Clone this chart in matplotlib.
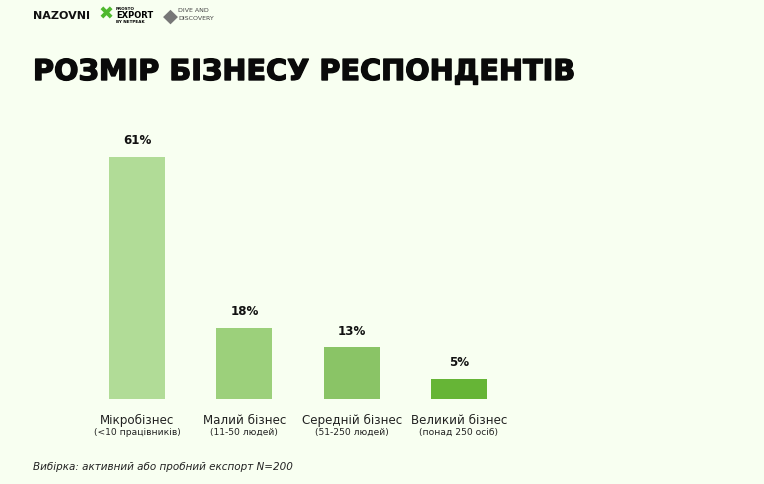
import matplotlib.pyplot as plt
import matplotlib.patheffects as pe

# data
categories = ["Мікробізнес", "Малий бізнес", "Середній бізнес", "Великий бізнес"]
subtitles = ["(<10 працівників)", "(11-50 людей)", "(51-250 людей)", "(понад 250 осіб)"]
values = [61, 18, 13, 5]
bar_colors = ["#b1dc97", "#9cd07b", "#8ac466", "#66b536"]

BG = "#f8fff1"
W, H = 764, 485

plt.rcParams['font.family'] = ['DejaVu Sans']

fig = plt.figure(figsize=(W / 100, H / 100), dpi=100, facecolor=BG)

# axes placed in pixel terms: bars from y=400 up to y=158 for the biggest value
ax = fig.add_axes([83.5 / W, (H - 400) / H, 429 / W, 242 / H])
ax.set_facecolor(BG)
ax.set_xlim(-0.5, 3.5)
ax.set_ylim(0, max(values))
for s in ax.spines.values():
    s.set_visible(False)
ax.set_xticks([])
ax.set_yticks([])

xs = range(len(values))
ax.bar(xs, values, width=0.522, color=bar_colors)

for x, v in zip(xs, values):
    ax.annotate(f"{v}%", (x, v), xytext=(0, 12.5), textcoords="offset points",
                ha="center", va="center", fontsize=8.6, fontweight="bold",
                color="#111111", annotation_clip=False)

for x, c, sub in zip(xs, categories, subtitles):
    ax.annotate(c, (x, 0), xytext=(0, -14.5), textcoords="offset points",
                ha="center", va="center", fontsize=8.6, color="#222222",
                annotation_clip=False)
    ax.annotate(sub, (x, 0), xytext=(0, -23.5), textcoords="offset points",
                ha="center", va="center", fontsize=6.6, color="#222222",
                annotation_clip=False)

# title, stroked a little to get closer to the heavy display face
fig.text(33 / W, 1 - 73 / H, "РОЗМІР БІЗНЕСУ РЕСПОНДЕНТІВ", ha="left", va="center",
         fontsize=20.7, fontweight="bold", color="#0a0a0a",
         path_effects=[pe.withStroke(linewidth=1.0, foreground="#0a0a0a")])

# footnote
fig.text(33 / W, 1 - 467 / H, "Вибірка: активний або пробний експорт N=200",
         ha="left", va="center", fontsize=7.5, style="italic", color="#222222")

# logos (approximation)
fig.text(33 / W, 1 - 16 / H, "NAZOVNI", ha="left", va="center",
         fontsize=8, fontweight="bold", color="#111111")
fig.text(106 / W, 1 - 15 / H, "✖", ha="center", va="center",
         fontsize=13, color="#4fb82e")
fig.text(116 / W, 1 - 9 / H, "PROSTO", ha="left", va="center", fontsize=3, fontweight="bold")
fig.text(116 / W, 1 - 15.5 / H, "EXPORT", ha="left", va="center", fontsize=6, fontweight="bold")
fig.text(116 / W, 1 - 22 / H, "BY NETPEAK", ha="left", va="center", fontsize=3, fontweight="bold")
fig.text(170 / W, 1 - 16 / H, "◆", ha="center", va="center",
         fontsize=14, color="#777777")
fig.text(178 / W, 1 - 11 / H, "DIVE AND", ha="left", va="center", fontsize=4.5, color="#444444",
         family=["DejaVu Sans Condensed", "DejaVu Sans"])
fig.text(178 / W, 1 - 18 / H, "DISCOVERY", ha="left", va="center", fontsize=4.5, color="#444444",
         family=["DejaVu Sans Condensed", "DejaVu Sans"])

fig.savefig("out.png", dpi=100, facecolor=BG)
